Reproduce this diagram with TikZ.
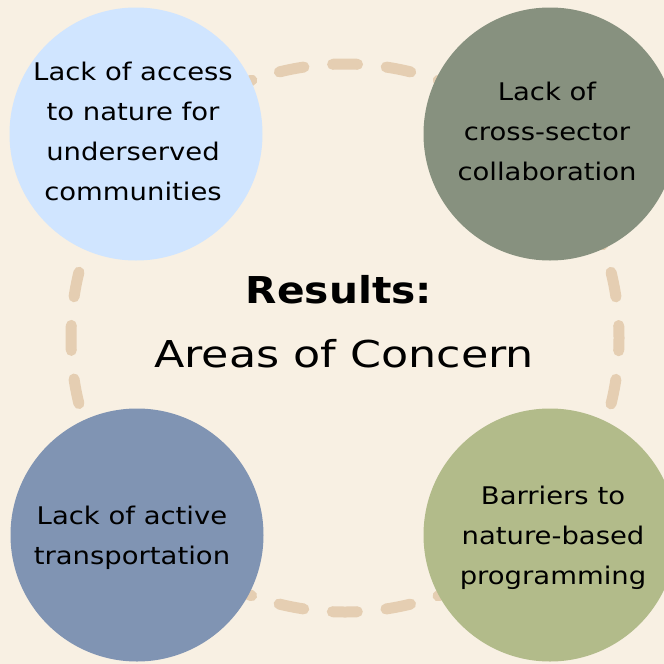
\documentclass[tikz,border=0pt]{standalone}
\usepackage{fontspec}
\setmainfont{DejaVu Sans}[FakeStretch=1.13]
\newfontfamily\areasfont{DejaVu Sans}[FakeStretch=1.2]
\newfontfamily\resultsfont{DejaVu Sans Bold}[FakeStretch=1.1]
\definecolor{bgcream}{HTML}{F8F0E3}
\definecolor{ringtan}{HTML}{E5CEB2}
\definecolor{skyblue}{HTML}{D0E5FF}
\definecolor{sagegray}{HTML}{87917F}
\definecolor{slateblue}{HTML}{8094B3}
\definecolor{olivegreen}{HTML}{B2BB8A}

\begin{document}
\begin{tikzpicture}[x=1pt,y=-1pt,
    blob/.style={circle,minimum size=253pt,inner sep=0pt},
    blobtext/.style={align=center,inner sep=0pt,font=\fontsize{24.3}{40}\selectfont}]
    \useasboundingbox (0,0) rectangle (664,664);
    \clip (0,0) rectangle (664,664);
    \fill[bgcream] (0,0) rectangle (664,664);
    % dashed ring behind the four circles
    \draw[ringtan,line width=11pt,line cap=round,
      dash pattern=on 25pt off 28.8pt,dash phase=12.5pt] (345,338) circle (274pt);
    \node[blob,fill=skyblue] (access) at (136,134) {};
    \node[blob,fill=sagegray] (collab) at (550,134) {};
    \node[blob,fill=slateblue] (transport) at (137,535) {};
    \node[blob,fill=olivegreen] (barriers) at (550,535) {};
    \node[blobtext] (accesstext) at ([xshift=-3pt,yshift=3pt]access) {Lack of access\\to nature for\\underserved\\communities};
    \node[blobtext] (collabtext) at ([xshift=-3pt,yshift=3pt]collab) {Lack of\\cross-sector\\collaboration};
    \node[blobtext] (transporttext) at ([xshift=-5pt,yshift=-3pt]transport) {Lack of active\\transportation};
    \node[blobtext] (barrierstext) at ([xshift=3pt,yshift=-3pt]barriers) {Barriers to\\nature-based\\programming};
    \node[font=\resultsfont\fontsize{37}{44}\selectfont] (results) at (339,290) {Results:};
    \node[font=\areasfont\fontsize{37}{44}\selectfont] (areas) at (344,354) {Areas of Concern};
\end{tikzpicture}
\end{document}
